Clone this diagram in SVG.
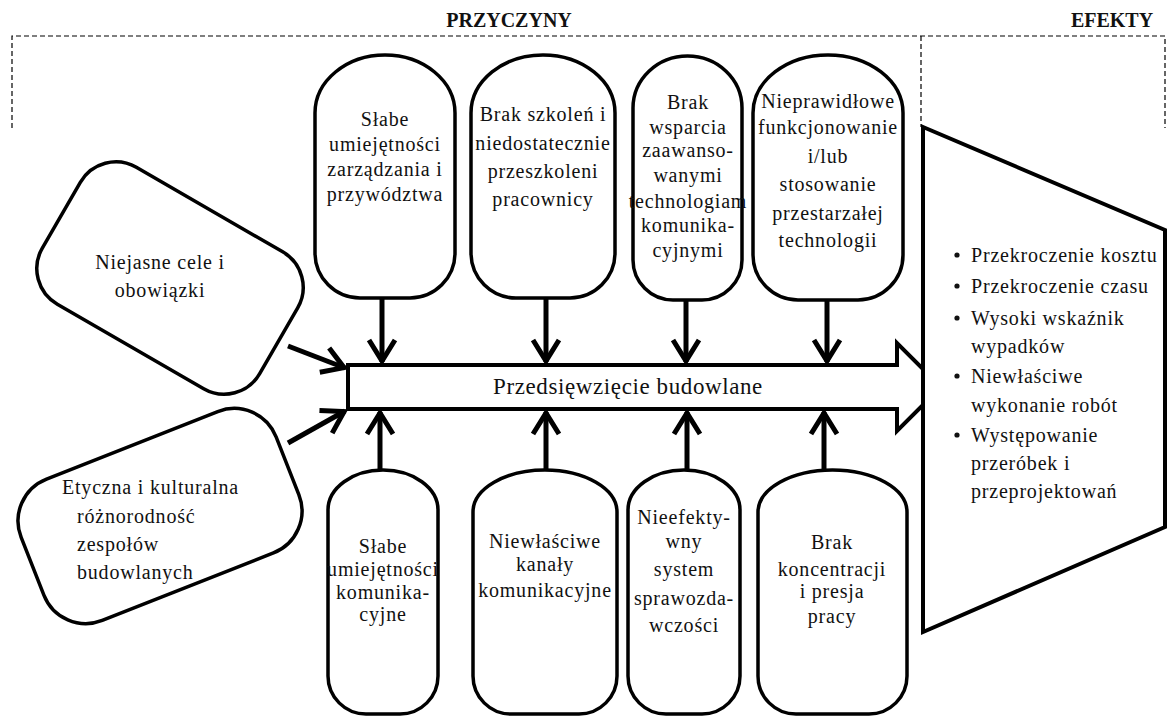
<svg xmlns="http://www.w3.org/2000/svg" width="1167" height="717" viewBox="0 0 1167 717">
  <defs>
    <style>
      .lbl { font-family: "Liberation Serif", "Times New Roman", serif; font-size: 20px; letter-spacing: 0.8px; fill: #111; }
      .mid { text-anchor: middle; }
      .head { font-family: "Liberation Serif", "Times New Roman", serif; font-size: 20px; font-weight: bold; fill: #111; text-anchor: middle; }
      .node { fill: #fff; stroke: #000; stroke-width: 3.5; }
      .dash { fill: none; stroke: #000; stroke-width: 1.2; stroke-dasharray: 5 3; }
      .conn { fill: none; stroke: #000; stroke-width: 5; }
    </style>
    <marker id="chev" markerUnits="userSpaceOnUse" viewBox="-30 -16 34 32" refX="0" refY="0" markerWidth="34" markerHeight="32" orient="auto" overflow="visible">
      <path d="M-22,-13 L-1,0 L-22,13" fill="none" stroke="#000" stroke-width="5"/>
    </marker>
  </defs>
  <rect width="1167" height="717" fill="#fff"/>

  <!-- section headers and dashed brackets -->
  <g id="headers">
    <text class="head" x="509" y="27">PRZYCZYNY</text>
    <text class="head" x="1112" y="27">EFEKTY</text>
    <path class="dash" d="M12,128 V36 H1165 V128 M921,36 V127"/>
  </g>

  <!-- central project arrow -->
  <g id="project">
    <path d="M348,365 H897 V343 L941,387 L897,431 V409 H348 Z" fill="#fff" stroke="#000" stroke-width="4" stroke-linejoin="miter"/>
    <text class="lbl mid" x="628" y="394" style="font-size:23px;letter-spacing:0.6px">Przedsięwzięcie budowlane</text>
  </g>

  <!-- effects panel -->
  <g id="effects">
    <path d="M923,127 L1165,230 V527 L923,632 Z" fill="#fff" stroke="#000" stroke-width="4"/>
    <g fill="#111">
      <circle cx="957" cy="255" r="2.6"/>
      <circle cx="957" cy="286" r="2.6"/>
      <circle cx="957" cy="318" r="2.6"/>
      <circle cx="957" cy="376" r="2.6"/>
      <circle cx="957" cy="435" r="2.6"/>
    </g>
    <text class="lbl" x="971" y="262">Przekroczenie kosztu</text>
    <text class="lbl" x="971" y="293">Przekroczenie czasu</text>
    <text class="lbl" x="971" y="325">Wysoki wskaźnik</text>
    <text class="lbl" x="971" y="353">wypadków</text>
    <text class="lbl" x="971" y="383">Niewłaściwe</text>
    <text class="lbl" x="971" y="412">wykonanie robót</text>
    <text class="lbl" x="971" y="442">Występowanie</text>
    <text class="lbl" x="971" y="470">przeróbek i</text>
    <text class="lbl" x="971" y="498">przeprojektowań</text>
  </g>

  <!-- causes above the arrow -->
  <g id="cause-management">
    <path class="node" d="M315,113 A70,58 0 0 1 455,113 V253 A45,45 0 0 1 410,298 H360 A45,45 0 0 1 315,253 Z"/>
    <text class="lbl mid" x="385" y="126">Słabe</text>
    <text class="lbl mid" x="385" y="151">umiejętności</text>
    <text class="lbl mid" x="385" y="176">zarządzania i</text>
    <text class="lbl mid" x="385" y="201">przywództwa</text>
  </g>
  <g id="cause-training">
    <path class="node" d="M471,113 A72,58 0 0 1 615,113 V253 A45,45 0 0 1 570,298 H516 A45,45 0 0 1 471,253 Z"/>
    <text class="lbl mid" x="543" y="121">Brak szkoleń i</text>
    <text class="lbl mid" x="543" y="150">niedostatecznie</text>
    <text class="lbl mid" x="543" y="178">przeszkoleni</text>
    <text class="lbl mid" x="543" y="206">pracownicy</text>
  </g>
  <g id="cause-technology-support">
    <path class="node" d="M633,108 A54.5,52 0 0 1 742,108 V260 A40,40 0 0 1 702,300 H673 A40,40 0 0 1 633,260 Z"/>
    <text class="lbl mid" x="688" y="109">Brak</text>
    <text class="lbl mid" x="688" y="134">wsparcia</text>
    <text class="lbl mid" x="688" y="157">zaawanso-</text>
    <text class="lbl mid" x="688" y="182">wanymi</text>
    <text class="lbl mid" x="688" y="208">technologiam</text>
    <text class="lbl mid" x="688" y="232">komunika-</text>
    <text class="lbl mid" x="688" y="257">cyjnymi</text>
  </g>
  <g id="cause-outdated-technology">
    <path class="node" d="M753,113 A75,58 0 0 1 903,113 V255 A45,45 0 0 1 858,300 H798 A45,45 0 0 1 753,255 Z"/>
    <text class="lbl mid" x="828" y="108">Nieprawidłowe</text>
    <text class="lbl mid" x="828" y="134">funkcjonowanie</text>
    <text class="lbl mid" x="828" y="163">i/lub</text>
    <text class="lbl mid" x="828" y="191">stosowanie</text>
    <text class="lbl mid" x="828" y="220">przestarzałej</text>
    <text class="lbl mid" x="828" y="247">technologii</text>
  </g>

  <!-- causes on the left -->
  <g id="cause-goals">
    <rect class="node" x="-125.5" y="-79" width="251" height="158" rx="41" ry="41" transform="translate(170,278) rotate(30)"/>
    <text class="lbl mid" x="160" y="269">Niejasne cele i</text>
    <text class="lbl mid" x="160" y="297">obowiązki</text>
  </g>
  <g id="cause-diversity">
    <rect class="node" x="-137" y="-76" width="274" height="152" rx="45" ry="45" transform="translate(160,516) rotate(-21.5)"/>
    <text class="lbl" x="62" y="494">Etyczna i kulturalna</text>
    <text class="lbl" x="77" y="523">różnorodność</text>
    <text class="lbl" x="77" y="551">zespołów</text>
    <text class="lbl" x="77" y="579">budowlanych</text>
  </g>

  <!-- causes below the arrow -->
  <g id="cause-communication-skills">
    <path class="node" d="M328,510 A55,40 0 0 1 438,510 V676 A38,38 0 0 1 400,714 H366 A38,38 0 0 1 328,676 Z"/>
    <text class="lbl mid" x="383" y="553">Słabe</text>
    <text class="lbl mid" x="383" y="576">umiejętności</text>
    <text class="lbl mid" x="383" y="599">komunika-</text>
    <text class="lbl mid" x="383" y="621">cyjne</text>
  </g>
  <g id="cause-channels">
    <path class="node" d="M473,512 A72,42 0 0 1 617,512 V676 A38,38 0 0 1 579,714 H511 A38,38 0 0 1 473,676 Z"/>
    <text class="lbl mid" x="545" y="548">Niewłaściwe</text>
    <text class="lbl mid" x="545" y="571">kanały</text>
    <text class="lbl mid" x="545" y="597">komunikacyjne</text>
  </g>
  <g id="cause-reporting">
    <path class="node" d="M628,510 A56,40 0 0 1 740,510 V676 A38,38 0 0 1 702,714 H666 A38,38 0 0 1 628,676 Z"/>
    <text class="lbl mid" x="684" y="524">Nieefekty-</text>
    <text class="lbl mid" x="684" y="548">wny</text>
    <text class="lbl mid" x="684" y="576">system</text>
    <text class="lbl mid" x="684" y="605">sprawozda-</text>
    <text class="lbl mid" x="684" y="632">wczości</text>
  </g>
  <g id="cause-pressure">
    <path class="node" d="M758,512 A74.5,42 0 0 1 907,512 V676 A38,38 0 0 1 869,714 H796 A38,38 0 0 1 758,676 Z"/>
    <text class="lbl mid" x="832" y="549">Brak</text>
    <text class="lbl mid" x="832" y="576">koncentracji</text>
    <text class="lbl mid" x="832" y="598">i presja</text>
    <text class="lbl mid" x="832" y="623">pracy</text>
  </g>

  <!-- connectors into the project arrow -->
  <g id="connectors">
    <line class="conn" x1="382" y1="298" x2="382" y2="362" marker-end="url(#chev)"/>
    <line class="conn" x1="546" y1="298" x2="546" y2="362" marker-end="url(#chev)"/>
    <line class="conn" x1="686" y1="300" x2="686" y2="362" marker-end="url(#chev)"/>
    <line class="conn" x1="827" y1="300" x2="827" y2="362" marker-end="url(#chev)"/>
    <line class="conn" x1="380" y1="470" x2="380" y2="412" marker-end="url(#chev)"/>
    <line class="conn" x1="546" y1="470" x2="546" y2="412" marker-end="url(#chev)"/>
    <line class="conn" x1="687" y1="470" x2="687" y2="412" marker-end="url(#chev)"/>
    <line class="conn" x1="824" y1="470" x2="824" y2="412" marker-end="url(#chev)"/>
    <line class="conn" x1="288" y1="346" x2="345" y2="368" marker-end="url(#chev)"/>
    <line class="conn" x1="288" y1="443" x2="345" y2="411" marker-end="url(#chev)"/>
  </g>
</svg>
